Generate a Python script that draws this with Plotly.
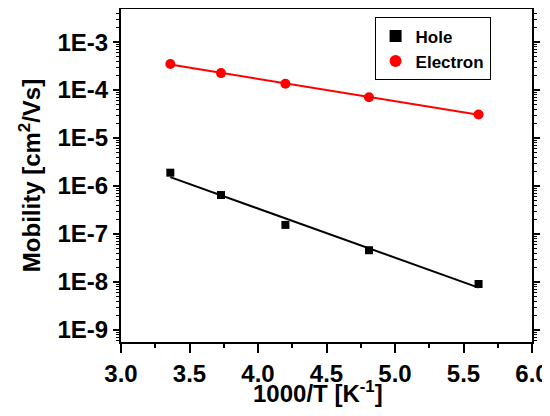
import numpy as np
import plotly.graph_objects as go

inv_T = [3.36, 3.73, 4.20, 4.81, 5.61]
hole = [1.9e-6, 6.5e-7, 1.55e-7, 4.6e-8, 9.1e-9]
electron = [3.5e-4, 2.26e-4, 1.36e-4, 7.1e-5, 3.1e-5]

ytick_vals = [1e-9, 1e-8, 1e-7, 1e-6, 1e-5, 1e-4, 1e-3]
ytick_text = ["1E-9", "1E-8", "1E-7", "1E-6", "1E-5", "1E-4", "1E-3"]

x = np.array(inv_T)
def fit(y):
    p = np.polyfit(x, np.log10(y), 1)
    return 10 ** np.polyval(p, x)

FONT = "Liberation Sans, Arial, sans-serif"
TITLE_FONT = dict(family=FONT, size=24, color="black", weight="bold")

fig = go.Figure()
fig.add_trace(go.Scatter(x=inv_T, y=fit(hole), mode="lines",
                         line=dict(color="black", width=2), showlegend=False))
fig.add_trace(go.Scatter(x=inv_T, y=fit(electron), mode="lines",
                         line=dict(color="#ff0000", width=2), showlegend=False))
fig.add_trace(go.Scatter(x=inv_T, y=hole, mode="markers", name="Hole",
                         marker=dict(symbol="square", size=8, color="black")))
fig.add_trace(go.Scatter(x=inv_T, y=electron, mode="markers", name="Electron",
                         marker=dict(symbol="circle", size=10, color="#ff0000")))

axis_common = dict(
    showline=True, linecolor="black", linewidth=2, mirror="ticks",
    ticks="outside", tickcolor="black", tickwidth=2,
    showgrid=False, zeroline=False, automargin=False,
    tickfont=dict(family=FONT, size=24, color="black", weight="bold"),
)

fig.update_layout(
    width=542, height=400,
    margin=dict(l=113, r=18, t=1, b=66, autoexpand=False),
    paper_bgcolor="white", plot_bgcolor="white",
    xaxis=dict(
        range=[3.0, 6.0], dtick=0.5, tick0=3.0, tickformat=".1f", ticklen=9,
        minor=dict(ticks="outside", ticklen=4, tickwidth=2, tickcolor="black", dtick=0.25),
        **axis_common,
    ),
    yaxis=dict(
        type="log", range=[-9.25, -2.31], ticklen=6,
        tickvals=ytick_vals, ticktext=ytick_text,
        minor=dict(ticks="outside", ticklen=3, tickwidth=1, tickcolor="black", dtick="D1"),
        title=dict(text="Mobility [cm<sup>2</sup>/Vs]", standoff=10, font=TITLE_FONT),
        **axis_common,
    ),
    legend=dict(
        x=0.617, y=0.975, xanchor="left", yanchor="top",
        bordercolor="black", borderwidth=1, bgcolor="white",
        font=dict(family=FONT, size=17, color="black", weight="bold"),
        tracegroupgap=0, itemsizing="constant",
    ),
    annotations=[dict(
        text="1000/T [K<sup>-1</sup>]", xref="paper", yref="paper",
        x=0.48, y=-0.202, xanchor="center", yanchor="bottom",
        showarrow=False, font=TITLE_FONT,
    )],
)

fig.write_html("out.html")
